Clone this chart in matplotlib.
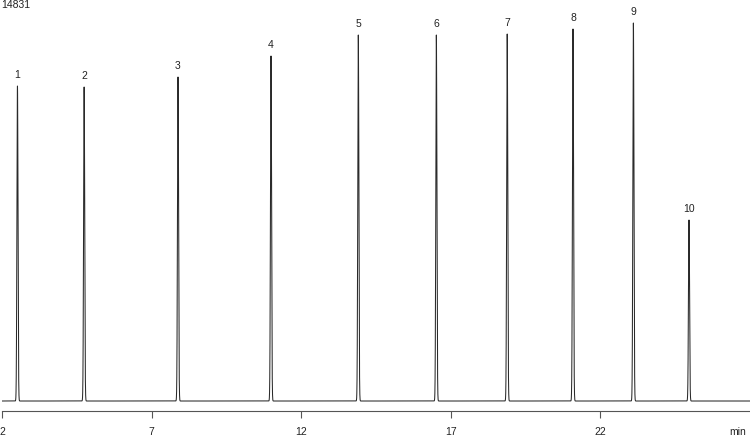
import numpy as np
import matplotlib
matplotlib.use("Agg")
import matplotlib.pyplot as plt

plt.rcParams['font.family'] = ['Liberation Sans', 'DejaVu Sans']

# Peak data
peak_labels = ["1", "2", "3", "4", "5", "6", "7", "8", "9", "10"]
retention_min = [2.51, 4.74, 7.88, 10.99, 13.91, 16.52, 18.89, 21.09, 23.11, 24.97]
peak_heights = [12071, 12033, 12416, 13221, 14026, 14026, 14064, 14256, 14486, 6936]
peak_sigma_min = 0.018
max_label = "14831"
tick_values = [2, 7, 12, 17, 22]
x_range = (1.993, 27.01)
y_range = (-383, 15368)

t = np.arange(2.0, 27.01, 0.001)
signal = np.zeros_like(t)
for rt, h in zip(retention_min, peak_heights):
    signal += h * np.exp(-0.5 * ((t - rt) / peak_sigma_min) ** 2)

fig = plt.figure(figsize=(7.5, 4.38), dpi=100)
ax = fig.add_axes([2 / 750, 27 / 438, 748 / 750, 411 / 438])
ax.plot(t, signal, color='#2a2a2a', linewidth=0.75)
ax.set_xlim(*x_range)
ax.set_ylim(*y_range)

for s in ['top', 'right', 'left']:
    ax.spines[s].set_visible(False)
ax.spines['bottom'].set_color('#555555')
ax.spines['bottom'].set_linewidth(0.8)
ax.set_yticks([])
ax.set_xticks(tick_values)
ax.set_xticklabels([str(v) for v in tick_values])
ax.tick_params(axis='x', direction='out', length=5, width=0.8, color='#555555',
               labelsize=7.5, pad=6.5, labelcolor='#222222')

for lab, rt, h in zip(peak_labels, retention_min, peak_heights):
    ax.annotate(lab, xy=(rt, h), xytext=(0, 4), textcoords='offset points',
                ha='center', va='bottom', fontsize=7.5, color='#222222')

fig.text(729 / 750, 1 - 432 / 438, "min", ha='left', va='center',
         fontsize=7.5, color='#222222')
fig.text(1 / 750, 1 - 5 / 438, max_label, ha='left', va='center',
         fontsize=7.5, color='#222222')

fig.savefig("out.png", dpi=100)
